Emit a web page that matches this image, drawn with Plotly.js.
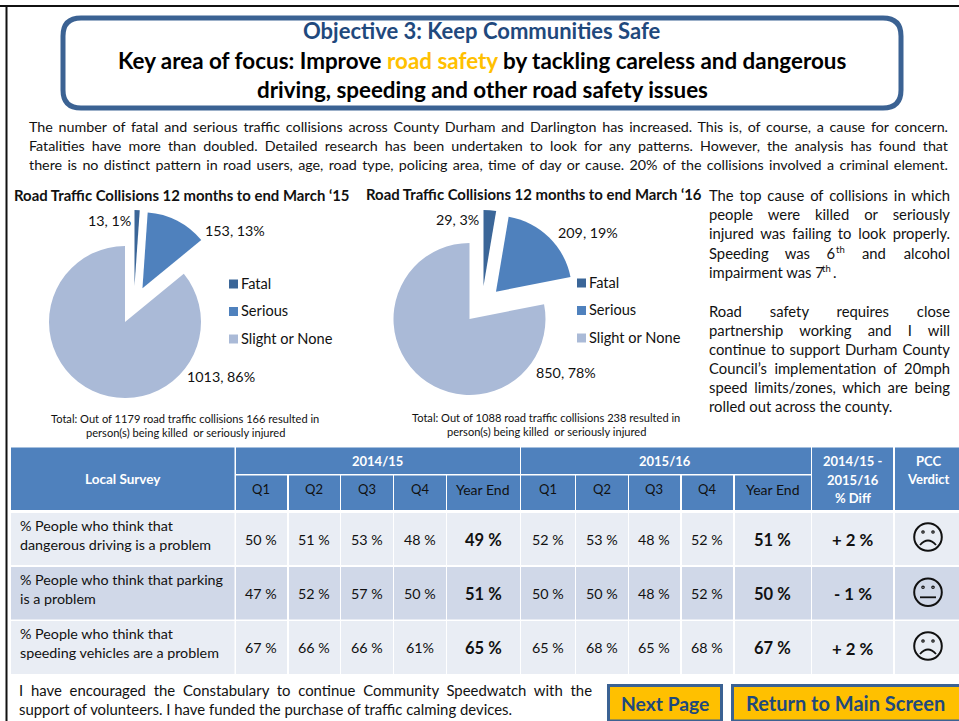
<!DOCTYPE html>
<html><head><meta charset="utf-8">
<script src="https://cdn.plot.ly/plotly-3.0.1.min.js"></script>
<style>html,body{margin:0;padding:0;background:#fff}#c{width:959px;height:721px}</style>
</head><body><div id="c"></div>
<script>
const sliceLabels = ['Fatal','Serious','Slight or None'];
const values2015 = [13,153,1013];
const values2016 = [29,209,850];
const pct2015 = [1,13,86];
const pct2016 = [3,19,78];
const quarterLabels = ['Q1','Q2','Q3','Q4','Year End'];
const surveyRows = [
 ['% People who think that','dangerous driving is a problem'],
 ['% People who think that parking','is a problem'],
 ['% People who think that','speeding vehicles are a problem']];
const survey1415 = [['50 %','51 %','53 %','48 %','49 %'],['47 %','52 %','57 %','50 %','51 %'],['67 %','66 %','66 %','61%','65 %']];
const survey1516 = [['52 %','53 %','48 %','52 %','51 %'],['50 %','50 %','48 %','52 %','50 %'],['65 %','68 %','65 %','68 %','67 %']];
const surveyDiff = ['+ 2 %','- 1 %','+ 2 %'];
const verdicts = ['sad','neutral','sad'];
const introLines = [
 'The number of fatal and serious traffic collisions across County Durham and Darlington has increased. This is, of course, a cause for concern.',
 'Fatalities have more than doubled. Detailed research has been undertaken to look for any patterns. However, the analysis has found that',
 'there is no distinct pattern in road users, age, road type, policing area, time of day or cause. 20% of the collisions involved a criminal element.'];
const sideLines = [
 ['The top cause of collisions in which',709,196,950],['people were killed or seriously',709,215,950],['injured was failing to look properly.',709,234,950],
 ['Speeding was 6',709,254,835],['and alcohol',862,254,950],['impairment was 7',709,273,0],
 ['Road safety requires close',709,312,950],['partnership working and I will',709,331,950],['continue to support Durham County',709,350,950],
 ['Council’s implementation of 20mph',709,369,950],['speed limits/zones, which are being',709,388,950],['rolled out across the county.',709,407,0]];
const COL = {fatal:'#3b6698',serious:'#4f81bd',slight:'#aabad7',head:'#4f81bd',r1:'#e9edf4',r2:'#d0d8e8',navy:'#1f497d',edge:'#3b6293',gold:'#ffc000'};
const FONT = 'Lato, Carlito, Calibri, sans-serif';
const W=959,H=721;
const px=x=>x/W, py=y=>1-y/H;
const anns=[],shapes=[],just={};
function T(text,x,y,o={}){
  if(o.right) just[anns.length]=o.right-x;
  const yy=o.bold?y:y-1;
  anns.push({text,xref:'paper',yref:'paper',x:px(x),y:py(yy),xanchor:o.anchor||'left',yanchor:'middle',
    align:o.anchor==='right'?'right':(o.anchor==='center'?'center':'left'),showarrow:false,borderpad:0,borderwidth:0,
    font:{family:FONT,size:o.size||14,color:o.color||'#111',weight:o.bold?700:400}});
}
function R(x0,y0,x1,y1,fill,line,lw){
  shapes.push({type:'rect',xref:'paper',yref:'paper',x0:px(x0),x1:px(x1),y0:py(y0),y1:py(y1),fillcolor:fill,line:{width:lw||0,color:line||fill}});
}
function C(cx,cy,r,lw){
  shapes.push({type:'circle',xref:'paper',yref:'paper',x0:px(cx-r),x1:px(cx+r),y0:py(cy-r),y1:py(cy+r),fillcolor:'rgba(0,0,0,0)',line:{width:lw,color:'#111'}});
}
function P(d,lw){
  const s=d.replace(/([ML])(-?[\d.]+),(-?[\d.]+)/g,(m,c,a,b)=>c+px(+a)+','+py(+b)).replace(/Q(-?[\d.]+),(-?[\d.]+) (-?[\d.]+),(-?[\d.]+)/g,(m,a,b,e,f)=>'Q'+px(+a)+','+py(+b)+' '+px(+e)+','+py(+f));
  shapes.push({type:'path',xref:'paper',yref:'paper',path:s,line:{width:lw,color:'#111'},fillcolor:'rgba(0,0,0,0)'});
}
// frame
R(0,5,959,7,'#111');
R(5.5,5,7.5,721,'#111');
// header box
shapes.push({type:'path',xref:'paper',yref:'paper',line:{width:5,color:COL.edge},fillcolor:'#fff',
  path:(()=>{const x0=63,x1=901,y0=18,y1=108,r=18;
   const p=(x,y)=>px(x)+','+py(y);
   return `M${p(x0+r,y0)} L${p(x1-r,y0)} Q${p(x1,y0)} ${p(x1,y0+r)} L${p(x1,y1-r)} Q${p(x1,y1)} ${p(x1-r,y1)} L${p(x0+r,y1)} Q${p(x0,y1)} ${p(x0,y1-r)} L${p(x0,y0+r)} Q${p(x0,y0)} ${p(x0+r,y0)} Z`;})()});
T('Objective 3: Keep Communities Safe',482,31,{anchor:'center',size:22,bold:1,color:COL.navy});
T('Key area of focus: Improve <span style="color:#ffc000">road safety</span> by tackling careless and dangerous',482,60.5,{anchor:'center',size:22.4,bold:1,color:'#000'});
T('driving, speeding and other road safety issues',482,89.5,{anchor:'center',size:22.4,bold:1,color:'#000'});
introLines.forEach((t,i)=>T(t,29,127+i*19,{size:14.3,right:948}));
sideLines.forEach(l=>T(l[0],l[1],l[2],{size:14.8,right:l[3]}));
T('th',835.5,250,{size:9.5});
T('th',822,269,{size:9.5});
T('.',833,273,{size:14.8});
// chart titles
T('Road Traffic Collisions 12 months to end March ‘15',14,195,{size:14.9,bold:1,color:'#111'});
T('Road Traffic Collisions 12 months to end March ‘16',366,194,{size:14.9,bold:1,color:'#111'});
function pieSet(vals,pct,cx,cy,fx,fy,lab,leg,tot){
  lab.forEach((l,i)=>T(vals[i]+', '+pct[i]+'%',l[0],l[1],{size:14.3,anchor:l[2]}));
  sliceLabels.forEach((n,i)=>{
    const c=[COL.fatal,COL.serious,COL.slight][i];
    R(leg[0],leg[1]+i*leg[2]-4.5,leg[0]+9,leg[1]+i*leg[2]+4.5,c);
    T(n,leg[0]+12,leg[1]+i*leg[2],{size:14.6});
  });
  tot[0].forEach((t,i)=>T(t,tot[1],tot[2]+i*14.5,{size:11.1,anchor:'center'}));
  const dom=(x,y,h)=>({x:[px(x-h),px(x+h)],y:[py(y+h),py(y-h)]});
  const r=76;
  return [
   {type:'pie',values:vals,labels:sliceLabels,sort:false,direction:'clockwise',rotation:0,pull:[0,0.5,0],textinfo:'none',hoverinfo:'none',showlegend:false,
    marker:{colors:['rgba(0,0,0,0)',COL.serious,COL.slight],line:{width:0}},domain:dom(cx,cy,r*1.5)},
   {type:'pie',values:vals,labels:sliceLabels,sort:false,direction:'clockwise',rotation:0,textinfo:'none',hoverinfo:'none',showlegend:false,
    marker:{colors:[COL.fatal,'rgba(0,0,0,0)','rgba(0,0,0,0)'],line:{width:0}},domain:dom(fx,fy,r)}
  ];
}
const traces=[
 ...pieSet(values2015,pct2015,125,322,134.5,286,[[131,222,'right'],[205,231,'left'],[187,377,'left']],[229,284,27.5],
   [['Total: Out of 1179 road traffic collisions 166 resulted in','person(s) being killed  or seriously injured'],185,419]),
 ...pieSet(values2016,pct2016,469.5,319,483.5,286,[[479,221,'right'],[558,233,'left'],[536,373,'left']],[577,283,27.5],
   [['Total: Out of 1088 road traffic collisions 238 resulted in','person(s) being killed  or seriously injured'],546,418])
];
// table
const colX=[[236,287],[289,340],[341,393],[394,446],[447,520],[521,575],[576,628],[629,680],[682,733],[735,811]];
const diffX=[812,893], pccX=[895,959];
const rowY=[[513,565],[567,619.5],[621,674]];
R(11,447.5,234.5,510,COL.head);
R(236,447.5,520,474,COL.head);
R(521,447.5,811,474,COL.head);
R(812,447.5,893,510,COL.head);
R(895,447.5,959,510,COL.head);
T('Local Survey',122.5,479,{anchor:'center',size:13.5,bold:1,color:'#fff'});
T('2014/15',377,461,{anchor:'center',size:13,bold:1,color:'#fff'});
T('2015/16',665,461,{anchor:'center',size:13,bold:1,color:'#fff'});
['2014/15 -','2015/16','% Diff'].forEach((t,i)=>T(t,852.5,461+i*18.5,{anchor:'center',size:13,bold:1,color:'#fff'}));
['PCC','Verdict'].forEach((t,i)=>T(t,928,460.5+i*18,{anchor:'center',size:13,bold:1,color:'#fff'}));
colX.forEach((c,i)=>{
  R(c[0],475.5,c[1],510,COL.head);
  T(quarterLabels[i%5],(c[0]+c[1])/2-(i%5==4?1:0.5),490,{anchor:'center',size:i%5==4?14:13,color:'#111'});
});
rowY.forEach((r,ri)=>{
  const f=ri==1?COL.r2:COL.r1;
  R(11,r[0],234.5,r[1],f);
  R(diffX[0],r[0],diffX[1],r[1],f);
  R(pccX[0],r[0],pccX[1],r[1],f);
  const my=(r[0]+r[1])/2;
  T(surveyRows[ri][0],20,r[0]+13.5,{size:14.3});
  T(surveyRows[ri][1],20,r[0]+32,{size:14.3});
  survey1415[ri].concat(survey1516[ri]).forEach((v,i)=>{
    const c=colX[i];
    R(c[0],r[0],c[1],r[1],f);
    const b=i%5==4;
    T(v,(c[0]+c[1])/2-0.5,b?my+0.5:my+1,{anchor:'center',size:b?16.5:14.3,bold:b,color:'#111'});
  });
  T(surveyDiff[ri],852.5,my+0.5,{anchor:'center',size:16.8,bold:1,color:'#111'});
  const cy=[537,592.3,646][ri], cx=928;
  C(cx,cy,13.8,2);
  C(cx-5,cy-5,1.2,1.2); C(cx+5,cy-5,1.2,1.2);
  if(verdicts[ri]==='sad') P(`M${cx-8},${cy+8} Q${cx},${cy-1} ${cx+8},${cy+8}`,1.8);
  else P(`M${cx-8},${cy+5} L${cx+8},${cy+5}`,1.8);
});
// footer
T('I have encouraged the Constabulary to continue Community Speedwatch with the',19,691,{size:14.9,right:592});
T('support of volunteers. I have funded the purchase of traffic calming devices.',19,710,{size:14.9});
R(608.5,685.5,721.5,721,COL.gold,COL.edge,3);
R(732.5,685.5,961,721,COL.gold,COL.edge,3);
T('Next Page',665,703,{anchor:'center',size:19.3,bold:1,color:COL.navy});
T('Return to Main Screen',845,703,{anchor:'center',size:20,bold:1,color:COL.navy});

Plotly.newPlot('c',traces,{width:W,height:H,margin:{l:0,r:0,t:0,b:0},paper_bgcolor:'#fff',plot_bgcolor:'#fff',showlegend:false,annotations:anns,shapes:shapes},{staticPlot:true,displayModeBar:false}).then(()=>{
  document.querySelectorAll('.annotation').forEach(g=>{
    const i=+g.getAttribute('data-index');
    if(just[i]){
      const t=g.querySelector('text');
      const n=(t.textContent.match(/ /g)||[]).length;
      const len=t.getComputedTextLength();
      if(n) t.style.wordSpacing=((just[i]-len)/n)+'px';
    }
  });
});
</script></body></html>
